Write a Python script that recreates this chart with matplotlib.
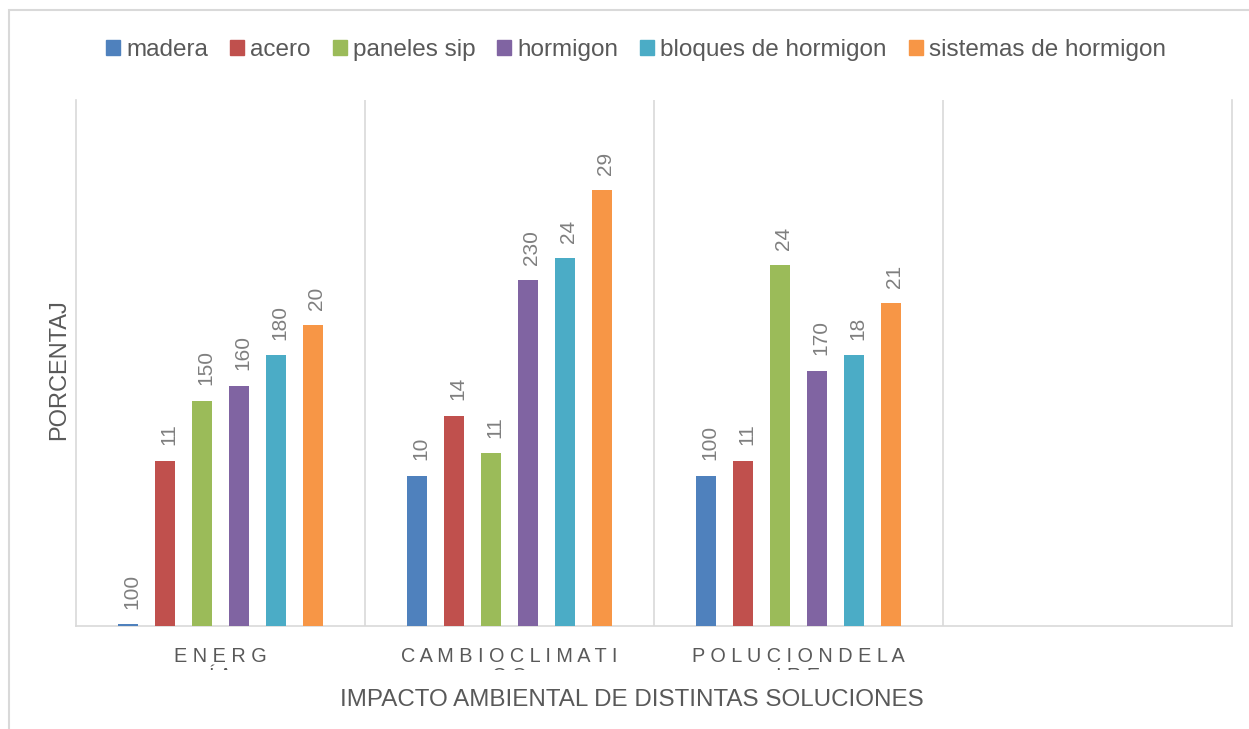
import matplotlib
matplotlib.use("Agg")
import matplotlib.pyplot as plt
from matplotlib.patches import Patch, Rectangle
from matplotlib.transforms import Bbox, TransformedBbox, blended_transform_factory
import numpy as np

plt.rcParams['font.family'] = ['Liberation Sans', 'DejaVu Sans']

categories = ["E N E R G", "C A M B I O C L I M A T I", "P O L U C I O N D E L A", ""]
categories_line2 = ["Í A", "C O", "I R E", ""]
series = ["madera", "acero", "paneles sip", "hormigon", "bloques de hormigon", "sistemas de hormigon"]
colors = ["#4F81BD", "#C0504D", "#9BBB59", "#8064A2", "#4BACC6", "#F79646"]

# bar heights (4th category is empty)
madera = [1, 100, 100, np.nan]
acero = [110, 140, 110, np.nan]
paneles_sip = [150, 115, 240, np.nan]
hormigon = [160, 230, 170, np.nan]
bloques = [180, 245, 180, np.nan]
sistemas = [200, 290, 215, np.nan]

# data labels as they show (clipped in the original)
madera_labels = ["100", "10", "100", ""]
acero_labels = ["11", "14", "11", ""]
paneles_sip_labels = ["150", "11", "24", ""]
hormigon_labels = ["160", "230", "170", ""]
bloques_labels = ["180", "24", "18", ""]
sistemas_labels = ["20", "29", "21", ""]

values = [madera, acero, paneles_sip, hormigon, bloques, sistemas]
labels = [madera_labels, acero_labels, paneles_sip_labels, hormigon_labels, bloques_labels, sistemas_labels]

TEXT = "#595959"
GRID = "#D9D9D9"

W, H = 1249, 729
fig = plt.figure(figsize=(W / 100, H / 100), dpi=100)
ax = fig.add_axes([76 / W, 1 - 626 / H, (1232 - 76) / W, (626 - 100) / H])

x = np.arange(len(categories))
step = 0.128
width = 0.066

for i, (name, vals, labs) in enumerate(zip(series, values, labels)):
    pos = x + (i - 2.5) * step
    ax.bar(pos, vals, width=width, color=colors[i], label=name, zorder=3)
    for px, v, lab in zip(pos, vals, labs):
        if lab == "" or np.isnan(v):
            continue
        ax.annotate(lab, (px, v), xytext=(2.5, 11), textcoords="offset points",
                    rotation=90, ha="center", va="bottom", fontsize=15, color="#7F7F7F")

ax.set_xlim(-0.5, 3.5)
ax.set_ylim(0, 350)
ax.set_yticks([])
ax.set_xticks([])
ax.set_xticks([0.5, 1.5, 2.5], minor=True)
ax.tick_params(which="both", length=0, labelbottom=False)
ax.grid(True, which="minor", axis="x", color=GRID, linewidth=1.2, zorder=0)

for side in ["left", "bottom", "right"]:
    ax.spines[side].set_color(GRID)
    ax.spines[side].set_linewidth(1.2)
ax.spines["top"].set_visible(False)

# category labels, second line cut off like in the original
trans = blended_transform_factory(ax.transData, fig.transFigure)
clip = TransformedBbox(Bbox.from_extents(0, 1 - 670 / H, 1, 1), fig.transFigure)
for xi, l1, l2 in zip(x, categories, categories_line2):
    ax.text(xi, 1 - 662 / H, l1, transform=trans, ha="center", va="baseline",
            fontsize=14.3, color=TEXT, clip_on=False)
    t = ax.text(xi, 1 - 667 / H, l2, transform=trans, ha="center", va="top",
                fontsize=14.3, color=TEXT)
    t.set_clip_on(True)
    t.set_clip_box(clip)

fig.text(632 / W, 1 - 700 / H, "IMPACTO AMBIENTAL DE DISTINTAS SOLUCIONES",
         ha="center", va="center", fontsize=17.4, color=TEXT)
fig.text(59 / W, 1 - 370 / H, "PORCENTAJ", rotation=90,
         ha="center", va="center", fontsize=17, color=TEXT)

handles = [Patch(color=c) for c in colors]
fig.legend(handles, series, loc="center", bbox_to_anchor=(636 / W, 1 - 50 / H), ncol=6,
           frameon=False, fontsize=17.5, handlelength=0.58, handleheight=0.58,
           handletextpad=0.25, columnspacing=0.9, labelcolor=TEXT)

# outer chart border
fig.add_artist(Rectangle((9 / W, -0.05), 1.1, 1.05 - 10 / H, transform=fig.transFigure,
                         fill=False, edgecolor=GRID, linewidth=1.5))

fig.savefig("out.png", dpi=100)
